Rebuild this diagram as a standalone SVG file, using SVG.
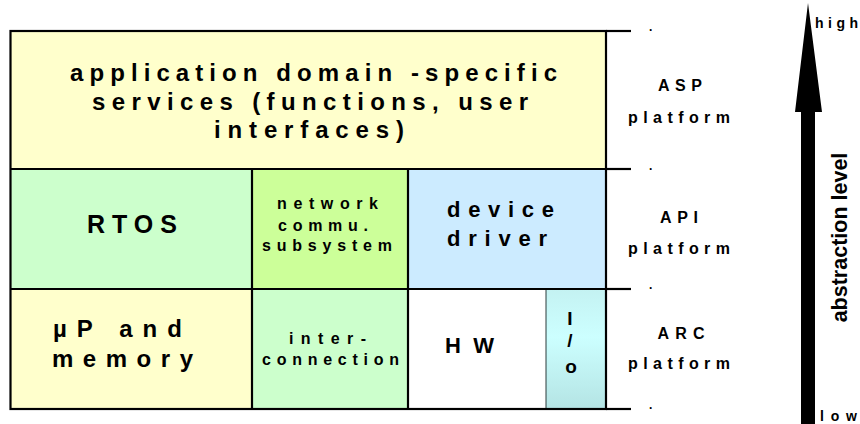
<svg xmlns="http://www.w3.org/2000/svg" width="860" height="424" viewBox="0 0 860 424">
  <defs>
    <linearGradient id="ioFill" x1="0" y1="0" x2="0" y2="1">
      <stop offset="0" stop-color="#c4f2f2"/>
      <stop offset="0.4" stop-color="#ccffff"/>
      <stop offset="1" stop-color="#b4e4e4"/>
    </linearGradient>
    <style>
      text { font-family: "Liberation Sans", Arial, sans-serif; font-weight: bold; fill: #000; }
      .frame { stroke: #000; stroke-width: 2.2; fill: none; }
      .thin { stroke: #2a3a3a; stroke-width: 1; fill: none; }
      .big { font-size: 24px; }
      .mid { font-size: 22px; }
      .small { font-size: 16px; }
      .lbl { font-size: 16px; }
      .dot { font-size: 12px; }
    </style>
  </defs>
  <rect width="860" height="424" fill="#fff"/>

  <!-- layer cells -->
  <g id="asp-services">
    <rect x="10.5" y="31" width="595.5" height="138" fill="#ffffcc"/>
    <text class="big" x="70" y="81" textLength="487" lengthAdjust="spacing">application domain -specific</text>
    <text class="big" x="92" y="110" textLength="436" lengthAdjust="spacing">services (functions, user</text>
    <text class="big" x="214" y="138" textLength="190" lengthAdjust="spacing">interfaces)</text>
  </g>

  <g id="rtos">
    <rect x="10.5" y="169" width="241.5" height="120" fill="#ccffcc"/>
    <text style="font-size:25px" x="87" y="233" textLength="90" lengthAdjust="spacing">RTOS</text>
  </g>

  <g id="network">
    <rect x="252" y="169" width="156" height="120" fill="#ccff99"/>
    <text class="small" x="277" y="209" textLength="101" lengthAdjust="spacing">network</text>
    <text class="small" x="278" y="231" textLength="90" lengthAdjust="spacing">commu.</text>
    <text class="small" x="262" y="251" textLength="130" lengthAdjust="spacing">subsystem</text>
  </g>

  <g id="device-driver">
    <rect x="408" y="169" width="198" height="120" fill="#ccebff"/>
    <text class="mid" x="447" y="217" textLength="107" lengthAdjust="spacing">device</text>
    <text class="mid" x="447" y="246" textLength="100" lengthAdjust="spacing">driver</text>
  </g>

  <g id="up-memory">
    <rect x="10.5" y="289" width="241.5" height="120" fill="#ffffcc"/>
    <text class="big" x="53" y="337" textLength="129" lengthAdjust="spacing">µP and</text>
    <text class="big" x="52" y="367" textLength="141" lengthAdjust="spacing">memory</text>
  </g>

  <g id="interconnection">
    <rect x="252" y="289" width="156" height="120" fill="#ccffcc"/>
    <text class="small" x="289" y="344" textLength="77" lengthAdjust="spacing">inter-</text>
    <text class="small" x="262" y="365" textLength="137" lengthAdjust="spacing">connection</text>
  </g>

  <g id="hw">
    <rect x="408" y="289" width="138" height="120" fill="#ffffff"/>
    <text style="font-size:22px" x="445" y="353" textLength="49" lengthAdjust="spacing">HW</text>
  </g>

  <g id="io">
    <rect x="546" y="289" width="60" height="120" fill="url(#ioFill)"/>
    <line class="thin" x1="546" y1="289" x2="546" y2="409"/>
    <text style="font-size:19px" x="570" y="325" text-anchor="middle">I</text>
    <text style="font-size:19px" x="570" y="347" text-anchor="middle">/</text>
    <text style="font-size:19px" x="571" y="373" text-anchor="middle">o</text>
  </g>

  <!-- grid lines of the stack -->
  <g id="frame">
    <rect class="frame" x="10.5" y="31" width="595.5" height="378"/>
    <line class="frame" x1="10.5" y1="169" x2="606" y2="169"/>
    <line class="frame" x1="10.5" y1="289" x2="606" y2="289"/>
    <line class="frame" x1="252" y1="169" x2="252" y2="409"/>
    <line class="frame" x1="408" y1="169" x2="408" y2="409"/>
  </g>

  <!-- platform labels -->
  <g id="asp-platform">
    <text class="lbl" x="680" y="91" text-anchor="middle" textLength="44" lengthAdjust="spacing">ASP</text>
    <text class="lbl" x="628" y="123" textLength="102" lengthAdjust="spacing">platform</text>
  </g>
  <g id="api-platform">
    <text class="lbl" x="679" y="223" text-anchor="middle" textLength="38" lengthAdjust="spacing">API</text>
    <text class="lbl" x="628" y="254" textLength="102" lengthAdjust="spacing">platform</text>
  </g>
  <g id="arc-platform">
    <text class="lbl" x="681" y="339" text-anchor="middle" textLength="47" lengthAdjust="spacing">ARC</text>
    <text class="lbl" x="628" y="369" textLength="102" lengthAdjust="spacing">platform</text>
  </g>

  <!-- boundary ticks and abstraction axis -->
  <g id="connectors">
    <line class="frame" x1="606" y1="31" x2="631" y2="31"/>
    <line class="frame" x1="606" y1="169" x2="631" y2="169"/>
    <line class="frame" x1="606" y1="289" x2="631" y2="289"/>
    <line class="frame" x1="606" y1="409" x2="631" y2="409"/>
    <text class="dot" x="649" y="31">.</text>
    <text class="dot" x="649" y="170">.</text>
    <text class="dot" x="649" y="289">.</text>
    <text class="dot" x="649" y="409">.</text>
    <polygon points="808,3 822,112 815,112 815,424 801,424 801,112 795,112" fill="#000"/>
  </g>

  <g id="axis-labels">
    <text style="font-size:14px" x="815" y="28" textLength="43" lengthAdjust="spacing">high</text>
    <text style="font-size:14px" x="820" y="421" textLength="37" lengthAdjust="spacing">low</text>
    <text style="font-size:21.5px" transform="translate(847,237.5) rotate(-90)" text-anchor="middle">abstraction level</text>
  </g>
</svg>
